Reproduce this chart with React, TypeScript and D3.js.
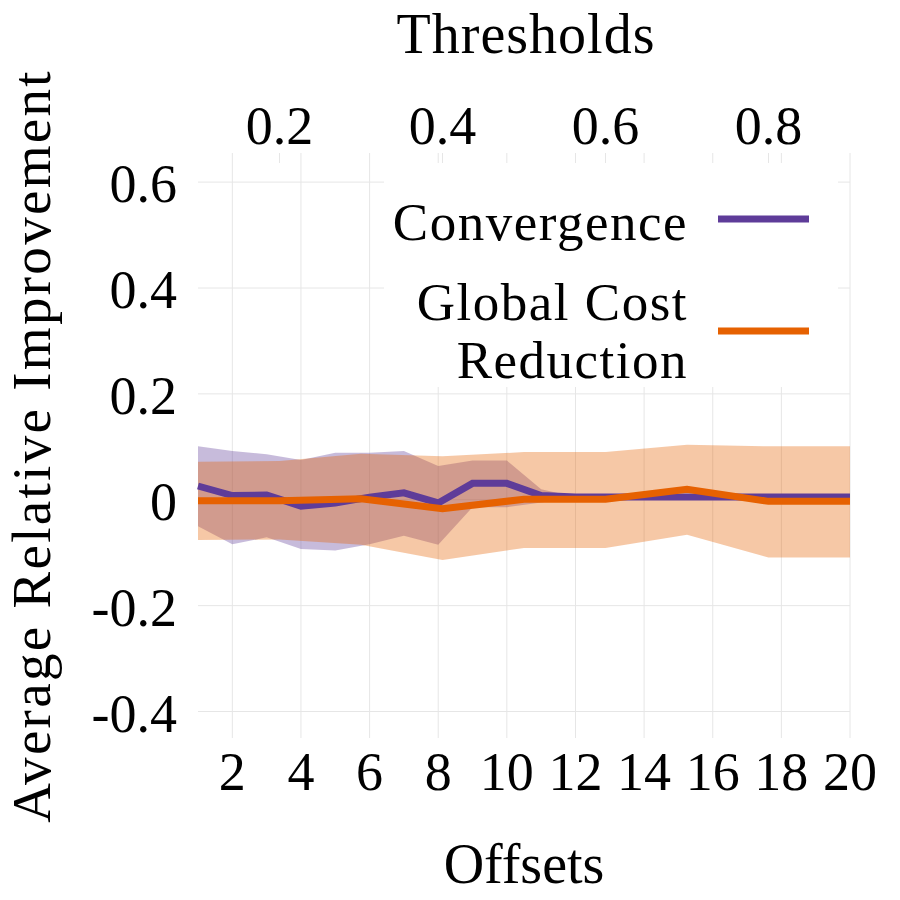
import React from "react";
import * as d3 from "d3";

// Convergence: one point per offset
const offsets = [1, 2, 3, 4, 5, 6, 7, 8, 9, 10, 11, 12, 13, 14, 15, 16, 17, 18, 19, 20];
const convMean = [0.026, 0.008, 0.009, -0.012, -0.006, 0.005, 0.013, -0.006, 0.031, 0.031, 0.008, 0.005, 0.005, 0.005, 0.005, 0.005, 0.005, 0.005, 0.005, 0.005];
const convUpper = [0.101, 0.092, 0.086, 0.075, 0.089, 0.089, 0.092, 0.064, 0.074, 0.074, 0.02, 0.005, 0.005, 0.005, 0.005, 0.005, 0.005, 0.005, 0.005, 0.005];
const convLower = [-0.05, -0.084, -0.071, -0.093, -0.096, -0.084, -0.068, -0.085, -0.014, -0.014, -0.005, 0.005, 0.005, 0.005, 0.005, 0.005, 0.005, 0.005, 0.005, 0.005];

// Global cost reduction: one point per threshold
const thresholds = [0.1, 0.2, 0.3, 0.4, 0.5, 0.6, 0.7, 0.8, 0.9];
const costMean = [-0.002, -0.002, 0.002, -0.017, 0.001, 0.001, 0.02, -0.003, -0.003];
const costUpper = [0.072, 0.073, 0.087, 0.082, 0.09, 0.09, 0.104, 0.101, 0.101];
const costLower = [-0.076, -0.075, -0.085, -0.114, -0.091, -0.091, -0.066, -0.109, -0.109];

const offsetTicks = [2, 4, 6, 8, 10, 12, 14, 16, 18, 20];
const thresholdTicks = [0.2, 0.4, 0.6, 0.8];
const yTicks = [-0.4, -0.2, 0, 0.2, 0.4, 0.6];

const seriesNames = ["Convergence", "Global Cost", "Reduction"];

const PURPLE = "#5e3c99";
const ORANGE = "#e66101";
const GRID = "#e6e6e6";
const FONT = "'Liberation Serif', 'Times New Roman', serif";

const left = 198;
const right = 850;
const top = 153;
const bottom = 738;

// one decimal, plain hyphen for negatives
const fmt1 = (v: number) => (v === 0 ? "0" : v.toFixed(1));

export default function App() {
  const xOff = d3.scaleLinear().domain([1, 20]).range([left, right]);
  const xThr = d3.scaleLinear().domain([0.1, 0.9]).range([left, right]);
  const y = d3.scaleLinear().domain([-0.45, 0.655]).range([bottom, top]);

  const convRows = offsets.map((o, i) => ({ x: o, m: convMean[i], lo: convLower[i], hi: convUpper[i] }));
  const costRows = thresholds.map((t, i) => ({ x: t, m: costMean[i], lo: costLower[i], hi: costUpper[i] }));

  const convArea = d3.area<any>().x((d) => xOff(d.x)).y0((d) => y(d.lo)).y1((d) => y(d.hi));
  const convLine = d3.line<any>().x((d) => xOff(d.x)).y((d) => y(d.m));
  const costArea = d3.area<any>().x((d) => xThr(d.x)).y0((d) => y(d.lo)).y1((d) => y(d.hi));
  const costLine = d3.line<any>().x((d) => xThr(d.x)).y((d) => y(d.m));

  return (
    <svg
      width={900}
      height={900}
      style={{ position: "absolute", left: 0, top: 0, background: "#fff" }}
      fontFamily={FONT}
    >
      <rect x={0} y={0} width={900} height={900} fill="#fff" />

      {/* grid */}
      <g stroke={GRID} strokeWidth={1}>
        {yTicks.map((t) => (
          <line key={"gy" + t} x1={left} x2={right} y1={y(t)} y2={y(t)} />
        ))}
        {offsetTicks.map((t) => (
          <line key={"gx" + t} x1={xOff(t)} x2={xOff(t)} y1={top} y2={bottom} />
        ))}
        {thresholdTicks.map((t) => (
          <line key={"tt" + t} x1={xThr(t)} x2={xThr(t)} y1={top} y2={top + 10} />
        ))}
      </g>

      {/* legend background */}
      <rect x={384} y={163} width={454} height={224} fill="#fff" />

      {/* confidence bands */}
      <path d={convArea(convRows) ?? ""} fill={PURPLE} fillOpacity={0.35} />
      <path d={costArea(costRows) ?? ""} fill={ORANGE} fillOpacity={0.35} />

      {/* mean lines */}
      <path d={convLine(convRows) ?? ""} fill="none" stroke={PURPLE} strokeWidth={7} strokeLinejoin="miter" />
      <path d={costLine(costRows) ?? ""} fill="none" stroke={ORANGE} strokeWidth={7} strokeLinejoin="miter" />

      {/* y tick labels */}
      <g fontSize={54} textAnchor="end" fill="#000">
        {yTicks.map((t) => (
          <text key={"yl" + t} x={177} y={y(t) + 20}>
            {fmt1(t)}
          </text>
        ))}
      </g>

      {/* bottom tick labels */}
      <g fontSize={54} textAnchor="middle" fill="#000">
        {offsetTicks.map((t) => (
          <text key={"xl" + t} x={xOff(t)} y={790}>
            {t}
          </text>
        ))}
      </g>

      {/* top tick labels */}
      <g fontSize={54} textAnchor="middle" fill="#000">
        {thresholdTicks.map((t) => (
          <text key={"tl" + t} x={xThr(t)} y={144}>
            {fmt1(t)}
          </text>
        ))}
      </g>

      {/* axis titles */}
      <text x={526} y={53} fontSize={56} textAnchor="middle" letterSpacing={1}>
        Thresholds
      </text>
      <text x={524} y={883} fontSize={56} textAnchor="middle">
        Offsets
      </text>
      <text
        transform={`translate(50, 446) rotate(-90)`}
        fontSize={55}
        textAnchor="middle"
        letterSpacing={2.3}
      >
        Average Relative Improvement
      </text>

      {/* legend */}
      <g fontSize={53} textAnchor="end" fill="#000" letterSpacing={1.5}>
        <text x={688} y={240}>{seriesNames[0]}</text>
        <text x={688} y={320}>{seriesNames[1]}</text>
        <text x={688} y={378}>{seriesNames[2]}</text>
      </g>
      <line x1={718} x2={809} y1={219} y2={219} stroke={PURPLE} strokeWidth={7} />
      <line x1={718} x2={809} y1={331} y2={331} stroke={ORANGE} strokeWidth={7} />
    </svg>
  );
}
